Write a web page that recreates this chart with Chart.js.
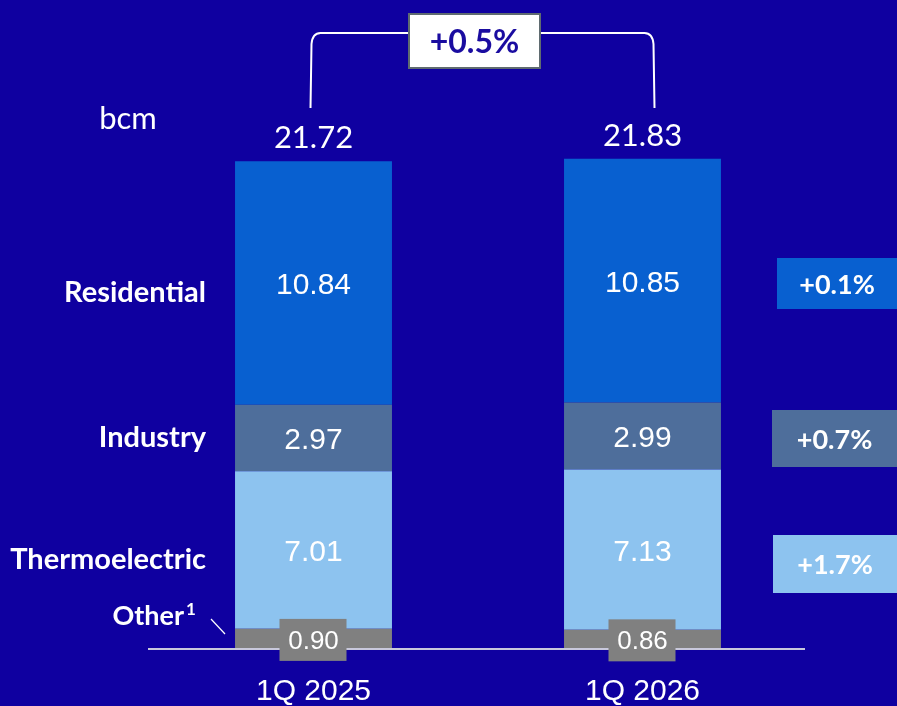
<!DOCTYPE html>
<html>
<head>
<meta charset="utf-8">
<title>Gas demand by sector</title>
<script src="https://cdn.jsdelivr.net/npm/chart.js@4.4.1/dist/chart.umd.min.js"></script>
<style>
  html, body { margin: 0; padding: 0; background: #0f00a0; }
  #wrap { width: 897px; height: 706px; }
</style>
</head>
<body>
<div id="wrap"><canvas id="demandChart" width="897" height="706"></canvas></div>
<script>
// quarters and sector volumes (bcm)
const quarters = ['1Q 2025', '1Q 2026'];
const otherValues = [0.90, 0.86];
const thermoValues = [7.01, 7.13];
const industryValues = [2.97, 2.99];
const residentialValues = [10.84, 10.85];
const totalValues = [21.72, 21.83];

// sector labels and year-on-year changes
const sectorNames = ['Residential', 'Industry', 'Thermoelectric'];
const sectorChanges = ['+0.1%', '+0.7%', '+1.7%'];
const totalChange = '+0.5%';
const unitLabel = 'bcm';

const BG = '#0f00a0';
const colors = {
    other: '#808080',
    thermo: '#8dc3ef',
    industry: '#4e6e9b',
    residential: '#0860d0'
};

const NUM_FONT = '"Liberation Sans", Arial, sans-serif';
const LABEL_FONT = 'Lato, "Noto Sans", sans-serif';

function fmt(v) {
    return v.toFixed(2);
}

const overlayPlugin = {
    id: 'overlay',
    afterDatasetsDraw(chart) {
        const ctx = chart.ctx;
        const xScale = chart.scales.x;
        const yScale = chart.scales.y;
        const area = chart.chartArea;
        ctx.save();

        // baseline
        ctx.strokeStyle = '#c8c8dc';
        ctx.lineWidth = 2;
        ctx.beginPath();
        ctx.moveTo(area.left - 1, area.bottom);
        ctx.lineTo(area.right - 2, area.bottom);
        ctx.stroke();

        // values inside the bar segments
        ctx.fillStyle = '#ffffff';
        ctx.textAlign = 'center';
        ctx.textBaseline = 'alphabetic';
        ctx.font = '30px ' + NUM_FONT;
        [1, 2, 3].forEach(di => {
            const meta = chart.getDatasetMeta(di);
            const data = chart.data.datasets[di].data;
            meta.data.forEach((bar, i) => {
                const mid = (bar.y + bar.base) / 2;
                ctx.fillText(fmt(data[i]), bar.x, mid + 11);
            });
        });

        // grey boxes for the "other" segment
        const otherMeta = chart.getDatasetMeta(0);
        otherMeta.data.forEach((bar, i) => {
            const mid = (bar.y + bar.base) / 2;
            ctx.fillStyle = colors.other;
            ctx.fillRect(bar.x - 34, mid - 20, 67, 42);
            ctx.fillStyle = '#ffffff';
            ctx.font = '26px ' + NUM_FONT;
            ctx.fillText(fmt(otherValues[i]), bar.x, mid + 10);
        });

        // totals above each bar
        ctx.font = '31px ' + LABEL_FONT;
        const topMeta = chart.getDatasetMeta(3);
        topMeta.data.forEach((bar, i) => {
            ctx.fillText(fmt(totalValues[i]), bar.x, yScale.getPixelForValue(totalValues[i]) - 13);
        });

        // quarter labels under the axis
        ctx.font = '30px ' + NUM_FONT;
        quarters.forEach((q, i) => {
            ctx.fillText(q, xScale.getPixelForValue(i), area.bottom + 51);
        });

        // unit
        ctx.font = '31px ' + LABEL_FONT;
        ctx.fillText(unitLabel, 128, 129);

        // sector names on the left
        ctx.textAlign = 'right';
        ctx.font = 'bold 29px ' + LABEL_FONT;
        ctx.fillText(sectorNames[0], 206, 302);
        ctx.fillText(sectorNames[1], 206, 447);
        ctx.fillText(sectorNames[2], 206, 569);
        ctx.font = 'bold 27px ' + LABEL_FONT;
        ctx.fillText('Other', 184, 625);
        ctx.textAlign = 'left';
        ctx.font = 'bold 17px ' + LABEL_FONT;
        ctx.fillText('1', 186, 615);

        // leader line for "other"
        ctx.strokeStyle = '#ffffff';
        ctx.lineWidth = 1.2;
        ctx.beginPath();
        ctx.moveTo(211, 619);
        ctx.lineTo(225, 634);
        ctx.stroke();

        // change boxes on the right
        const boxes = [
            { x: 777, y: 258, w: 120, h: 51, c: colors.residential },
            { x: 772, y: 410, w: 125, h: 57, c: colors.industry },
            { x: 773, y: 535, w: 124, h: 58, c: colors.thermo }
        ];
        ctx.textAlign = 'center';
        ctx.font = 'bold 27px ' + LABEL_FONT;
        boxes.forEach((b, i) => {
            ctx.fillStyle = b.c;
            ctx.fillRect(b.x, b.y, b.w, b.h);
            ctx.fillStyle = '#ffffff';
            ctx.fillText(sectorChanges[i], b.x + b.w / 2, b.y + b.h / 2 + 10);
        });

        // bracket linking the two totals
        const lx = xScale.getPixelForValue(0) - 3;
        const rx = xScale.getPixelForValue(1) + 12;
        ctx.strokeStyle = '#ffffff';
        ctx.lineWidth = 2;
        ctx.beginPath();
        ctx.moveTo(lx, 108);
        ctx.lineTo(lx + 1, 44);
        ctx.quadraticCurveTo(lx + 2, 33, lx + 10, 33);
        ctx.lineTo(408, 33);
        ctx.moveTo(541, 33);
        ctx.lineTo(rx - 10, 33);
        ctx.quadraticCurveTo(rx - 2, 33, rx - 1, 44);
        ctx.lineTo(rx, 108);
        ctx.stroke();

        ctx.fillStyle = '#ffffff';
        ctx.fillRect(408, 13, 133, 56);
        ctx.strokeStyle = '#5f6b70';
        ctx.lineWidth = 2;
        ctx.strokeRect(409, 14, 131, 54);
        ctx.fillStyle = '#1a0ca0';
        ctx.font = 'bold 32px ' + LABEL_FONT;
        ctx.fillText(totalChange, 474.5, 53);

        ctx.restore();
    }
};

const ctx = document.getElementById('demandChart').getContext('2d');
const demandChart = new Chart(ctx, {
    type: 'bar',
    data: {
        labels: quarters,
        datasets: [
            { label: 'Other', data: otherValues, backgroundColor: colors.other },
            { label: 'Thermoelectric', data: thermoValues, backgroundColor: colors.thermo },
            { label: 'Industry', data: industryValues, backgroundColor: colors.industry },
            { label: 'Residential', data: residentialValues, backgroundColor: colors.residential }
        ]
    },
    options: {
        responsive: false,
        animation: false,
        layout: {
            padding: { left: 149, right: 90, top: 0, bottom: 57 }
        },
        datasets: {
            bar: {
                barPercentage: 0.477,
                categoryPercentage: 1,
                borderWidth: 0
            }
        },
        plugins: {
            legend: { display: false },
            tooltip: { enabled: false }
        },
        scales: {
            x: { stacked: true, display: false },
            y: { stacked: true, display: false, min: 0, max: 28.9 }
        }
    },
    plugins: [overlayPlugin]
});
</script>
</body>
</html>
